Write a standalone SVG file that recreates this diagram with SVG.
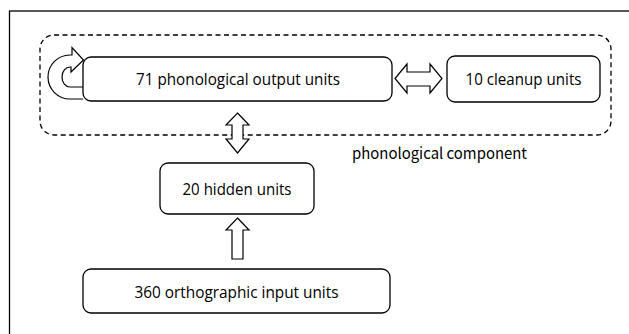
<svg xmlns="http://www.w3.org/2000/svg" width="629" height="334" viewBox="0 0 629 334">
<style>
.box{fill:#fff;stroke:#000;stroke-width:1.3}
.arr{fill:#fff;stroke:#000;stroke-width:1.2;stroke-linejoin:miter}
.t{font-family:"Open Sans","Noto Sans",sans-serif;font-size:16.5px;fill:#000;text-anchor:middle}
.g{font-family:"Noto Sans CJK JP","DejaVu Sans",sans-serif;font-size:15.5px;fill:#000;text-anchor:middle}
</style>
<rect width="629" height="334" fill="#fff"/>
<rect x="9.5" y="11" width="640" height="340" fill="none" stroke="#000" stroke-width="1.3"/>
<g id="phonological-component">
<rect x="40" y="35" width="571" height="100" rx="14" ry="14" fill="none" stroke="#000" stroke-width="1.3" stroke-dasharray="5,3.5"/>
<text class="g" x="439.5" y="158.5" textLength="175" lengthAdjust="spacingAndGlyphs">phonological component</text>
</g>
<g id="connectors">
<path class="arr" d="M83,99 L70,99 A22,22 0 0 1 70,55 L72,55 L72,47.5 L83.5,60 L71,72 L71,67 L70,67 A8,10 0 0 0 70,87 L83,87"/>
<path class="arr" d="M395,78.5 L407,64 L407,72 L430,72 L430,64 L442,78.5 L430,93 L430,86 L407,86 L407,93 Z"/>
<path class="arr" d="M237.5,113 L249,125 L243,125 L243,139 L249,139 L237.5,153 L226,139 L232,139 L232,125 L226,125 Z"/>
<path class="arr" d="M237.5,218 L249,230 L243,230 L243,259 L232,259 L232,230 L226,230 Z"/>
</g>
<g id="phonological-output">
<rect class="box" x="83" y="57" width="309" height="44" rx="8"/>
<text class="t" x="238" y="85" textLength="204" lengthAdjust="spacingAndGlyphs">71 phonological output units</text>
</g>
<g id="cleanup">
<rect class="box" x="447" y="56" width="153" height="46" rx="8"/>
<text class="t" x="523.5" y="85" textLength="116" lengthAdjust="spacingAndGlyphs">10 cleanup units</text>
</g>
<g id="hidden">
<rect class="box" x="160" y="163" width="154" height="51" rx="8"/>
<text class="t" x="237" y="194.5" textLength="109" lengthAdjust="spacingAndGlyphs">20 hidden units</text>
</g>
<g id="input">
<rect class="box" x="83" y="269" width="307" height="44" rx="8"/>
<text class="t" x="236.5" y="297.5" textLength="204" lengthAdjust="spacingAndGlyphs">360 orthographic input units</text>
</g>
</svg>
